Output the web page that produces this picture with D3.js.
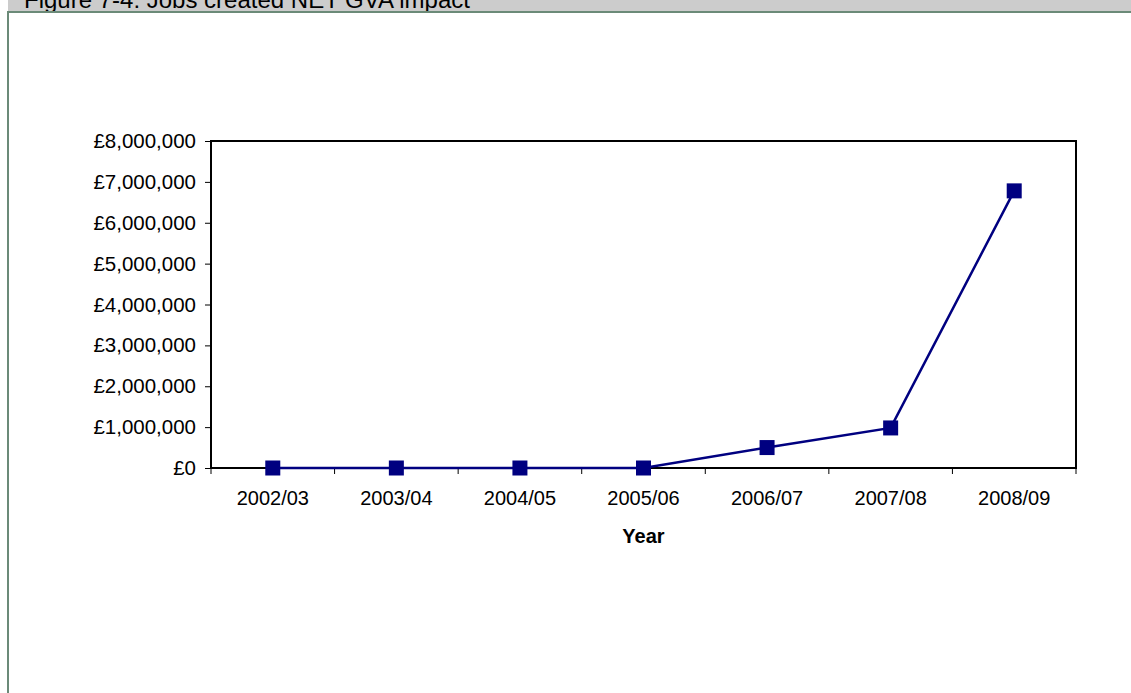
<!DOCTYPE html>
<html><head><meta charset="utf-8">
<script src="https://cdn.jsdelivr.net/npm/d3@7"></script>
<style>
html,body{margin:0;padding:0;background:#fff;}
svg{display:block;font-family:"Liberation Sans",Arial,sans-serif;}
</style></head>
<body>
<svg id="chart" width="1131" height="693"></svg>
<script>
const title = "Figure 7-4: Jobs created NET GVA impact";
const years = ["2002/03","2003/04","2004/05","2005/06","2006/07","2007/08","2008/09"];
const values = [0, 0, 0, 0, 500000, 980000, 6780000];
const yTicks = [0,1000000,2000000,3000000,4000000,5000000,6000000,7000000,8000000];
const xTitle = "Year";

const svg = d3.select("#chart");
// header bar
svg.append("rect").attr("x",8).attr("y",0).attr("width",1123).attr("height",11).attr("fill","#cccccc");
svg.append("text").attr("x",24).attr("y",8).attr("font-size",24).attr("fill","#000").text(title);
// frame lines
svg.append("rect").attr("x",7).attr("y",11).attr("width",1124).attr("height",2).attr("fill","#6b8a78");
svg.append("rect").attr("x",7).attr("y",11).attr("width",2).attr("height",682).attr("fill","#6b8a78");

const L=211, T=141, R=1076, B=468;
const x = d3.scaleBand().domain(years).range([L,R]);
const y = d3.scaleLinear().domain([0,8000000]).range([B,T]);
const fmt = v => "£" + d3.format(",")(v);
const FF = "Liberation Sans, Arial, sans-serif";

// y axis
const ya = svg.append("g").attr("transform",`translate(${L},0)`)
  .call(d3.axisLeft(y).tickValues(yTicks).tickFormat(fmt).tickSize(6).tickPadding(9));
ya.select(".domain").remove();
ya.selectAll("line").attr("stroke","#000").attr("stroke-width",1);
ya.selectAll("text").attr("font-size",20.5).attr("fill","#000").attr("font-family",FF);

// x axis ticks at band boundaries
const xa = svg.append("g").attr("transform",`translate(0,${B})`)
  .call(d3.axisBottom(x).tickSize(0).tickPadding(23));
xa.select(".domain").remove();
xa.selectAll("text").attr("font-size",20).attr("fill","#000").attr("font-family",FF);
const bounds = years.map(d=>x(d)).concat([R]);
svg.append("g").selectAll("line").data(bounds).join("line")
  .attr("x1",d=>d).attr("x2",d=>d).attr("y1",B).attr("y2",B+6)
  .attr("stroke","#000").attr("stroke-width",1);

// plot border
svg.append("rect").attr("x",L).attr("y",T).attr("width",R-L).attr("height",B-T)
  .attr("fill","none").attr("stroke","#000").attr("stroke-width",2);

// axis title
svg.append("text").attr("x",(L+R)/2).attr("y",543).attr("text-anchor","middle")
  .attr("font-size",20).attr("font-weight","bold").attr("font-family",FF).text(xTitle);

// line
const cx = d => x(d) + x.bandwidth()/2;
const line = d3.line().x((d,i)=>cx(years[i])).y(d=>y(d));
svg.append("path").datum(values).attr("d",line).attr("fill","none")
  .attr("stroke","#000080").attr("stroke-width",2.5);
svg.append("g").selectAll("rect").data(values).join("rect")
  .attr("x",(d,i)=>cx(years[i])-7.5).attr("y",d=>y(d)-7.5)
  .attr("width",15).attr("height",15).attr("fill","#000080");
</script>
</body></html>
